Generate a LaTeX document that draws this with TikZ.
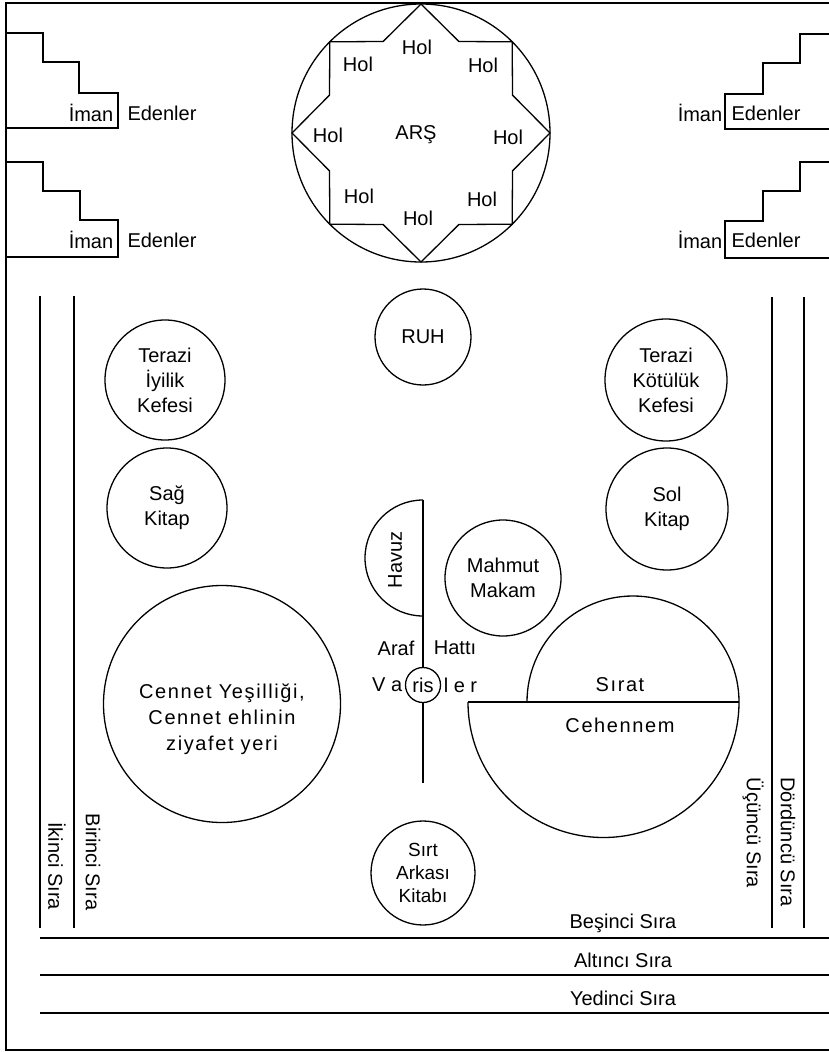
\documentclass[tikz,border=0pt]{standalone}
\usepackage{fontspec}
\setmainfont{Liberation Sans}
\newfontfamily\genis[LetterSpace=8]{Liberation Sans}
\usetikzlibrary{calc}
\tikzset{
    halka/.style={circle, draw, inner sep=0pt, align=center},
    genisyazi/.style={align=center, font=\genis\fontsize{20}{26}\selectfont},
    siryazi/.style={rotate=-90, inner sep=1pt},
}

\begin{document}
\begin{tikzpicture}[x=1pt, y=-1pt, line width=1.3pt, font=\fontsize{20}{25}\selectfont]
    \useasboundingbox (0,0) rectangle (829,1052);
    \draw (829,3) -- (6,3) -- (6,1050) -- (829,1050);  % 外框

    % 左边的台阶
    \draw (6,33) -- (43,33) -- (43,62) -- (79,62) -- (79,93) -- (118,93) -- (118,128) -- (6,128);
    \draw (6,162) -- (43,162) -- (43,191) -- (80,191) -- (80,220) -- (118,220) -- (118,257) -- (6,257);
    \node (imanA) at (91,113) {İman};
    \node (edenlerA) at (162,113) {Edenler};
    \node (imanB) at (91,240) {İman};
    \node (edenlerB) at (162,240) {Edenler};

    % 右边的台阶
    \draw (829,34) -- (800,34) -- (800,63) -- (763,63) -- (763,94) -- (725,94) -- (725,129) -- (829,129);
    \draw (829,162) -- (800,162) -- (800,191) -- (763,191) -- (763,221) -- (725,221) -- (725,258) -- (829,258);
    \node (imanC) at (700,113) {İman};
    \node (edenlerC) at (766,113) {Edenler};
    \node (imanD) at (700,240) {İman};
    \node (edenlerD) at (766,240) {Edenler};

    % Arş: 圆和八角星
    \coordinate (ars) at (421,133);
    \draw (ars) circle[radius=129];
    \draw (550,133) -- (512.5,170.9) -- (512.2,224.2) -- (458.9,224.5) -- (421,262)
        -- (383.1,224.5) -- (329.8,224.2) -- (329.5,170.9) -- (292,133)
        -- (329.5,95.1) -- (329.8,41.8) -- (383.1,41.5) -- (421,4)
        -- (458.9,41.5) -- (512.2,41.8) -- (512.5,95.1) -- cycle;  % 八角星
    \node (arsyazi) at (416,135) {ARŞ};
    \node (holA) at (417,47) {Hol};
    \node (holB) at (358,64) {Hol};
    \node (holC) at (483,65) {Hol};
    \node (holD) at (328,135) {Hol};
    \node (holE) at (508,137) {Hol};
    \node (holF) at (359,196) {Hol};
    \node (holG) at (482,199) {Hol};
    \node (holH) at (418,218) {Hol};

    % 竖线
    \draw (40,296) -- (40,928);
    \draw (74,296) -- (74,928);
    \draw (772,297) -- (772,928);
    \draw (804,297) -- (804,928);
    \node[siryazi] (ikinci) at (57,866) {İkinci Sıra};
    \node[siryazi] (birinci) at (93,862) {Birinci Sıra};
    \node[siryazi] (ucuncu) at (753,833) {Üçüncü Sıra};
    \node[siryazi] (dorduncu) at (788,842) {Dördüncü Sıra};

    % 横线
    \draw (40,938) -- (829,938);
    \draw (40,975) -- (829,975);
    \draw (40,1013) -- (829,1013);
    \node (besinci) at (623,923) {Beşinci Sıra};
    \node (altinci) at (623,960) {Altıncı Sıra};
    \node (yedinci) at (623,998) {Yedinci Sıra};

    % 中间
    \node[halka, minimum size=96pt] (ruh) at (423,337) {RUH};
    \coordinate (araftepe) at (423,500);
    \coordinate (arafson) at (423,783);
    \node[halka, minimum size=35pt] (ris) at (423,685) {ris};
    \draw (araftepe) -- (ris.north);
    \draw (ris.south) -- (arafson);
    \draw (araftepe) arc[start angle=270, end angle=90, radius=58];  % Havuz 半圆
    \node[rotate=90] (havuz) at (395,560) {Havuz};
    \node (araf) at (396,648) {Araf};
    \node (hatti) at (455,648) {Hattı};
    \node[anchor=east, inner sep=2pt] (va) at (ris.west) {V a};
    \node[anchor=west, inner sep=2pt] (ler) at (ris.east) {l e r};
    \node[halka, minimum size=116pt] (mahmut) at (503,578) {Mahmut\\Makam};
    \node[halka, minimum size=104pt, font=\fontsize{19}{23}\selectfont] (sirt) at (423,873) {Sırt\\Arkası\\Kitabı};

    % Sırat 和 Cehennem
    \coordinate (cehsol) at (468,702);
    \coordinate (cehsag) at (739,702);
    \draw (cehsol) -- (cehsag);
    \draw (cehsol) arc[start angle=180, end angle=0, radius=135.5];
    \draw (cehsag) arc[start angle=0, end angle=-180, radius=106];
    \node[genisyazi] (sirat) at (620,685) {Sırat};
    \node[genisyazi] (cehennem) at (620,725) {Cehennem};

    % 左边的圆
    \node[halka, minimum size=120pt] (iyilik) at (165,380) {Terazi\\İyilik\\Kefesi};
    \node[halka, minimum size=120pt] (sag) at (167,508) {Sağ\\Kitap};
    \node[halka, minimum size=237pt] (cennet) at (222,704) {};
    \node[genisyazi] (cennetyazi) at (222,719) {Cennet Yeşilliği,\\Cennet ehlinin\\ziyafet yeri};

    % 右边的圆
    \node[halka, minimum size=122pt] (kotuluk) at (666,380) {Terazi\\Kötülük\\Kefesi};
    \node[halka, minimum size=122pt] (sol) at (667,509) {Sol\\Kitap};
\end{tikzpicture}
\end{document}
